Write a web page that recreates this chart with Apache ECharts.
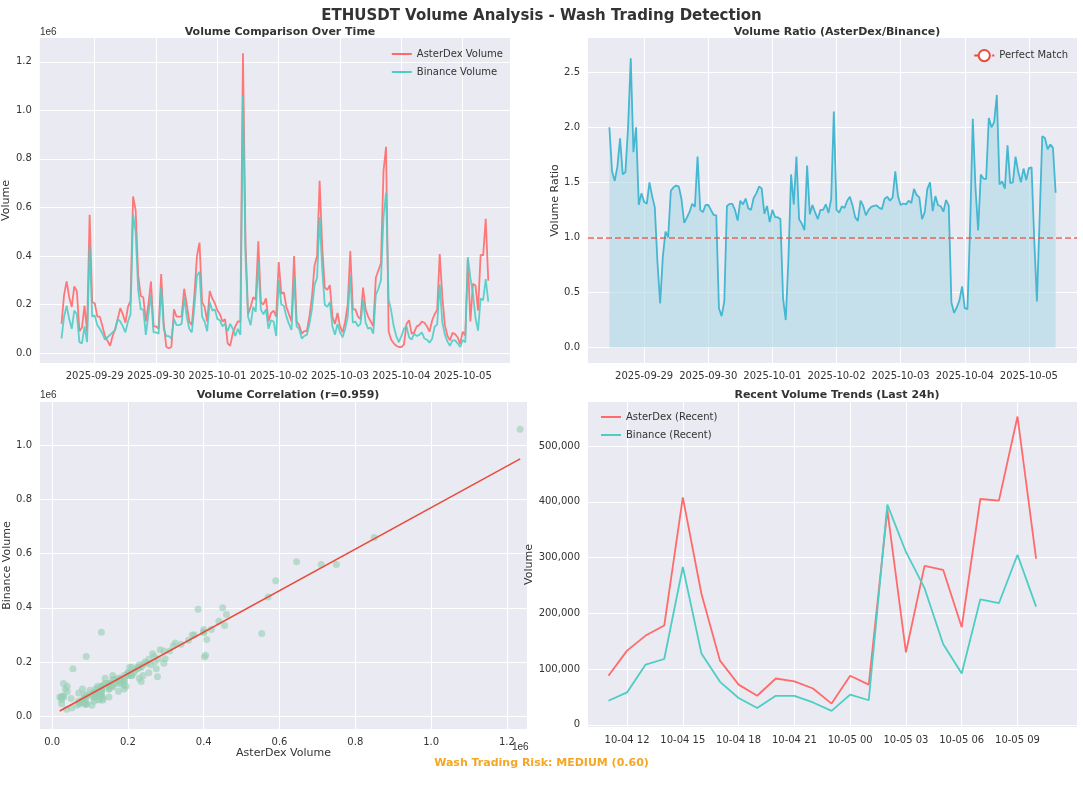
<!DOCTYPE html>
<html>
<head>
<meta charset="utf-8">
<script src="https://cdn.jsdelivr.net/npm/echarts@6/dist/echarts.min.js"></script>
<style>
html,body{margin:0;padding:0;background:#fff;}
#chart{width:1083px;height:801px;}
</style>
</head>
<body>
<div id="chart"></div>
<script>
// hourly volumes (thousands), 2025-09-28 11:00 .. 2025-10-05 10:00 UTC
var asterK = [120,240,295,230,190,275,255,90,105,195,90,570,210,205,150,150,110,70,50,30,70,100,140,185,
  160,125,190,215,645,590,320,235,230,130,200,295,110,110,100,325,120,25,20,25,180,150,150,150,
  265,200,130,115,240,400,455,210,190,130,255,225,205,175,160,130,140,40,30,80,110,130,130,1235,
  450,160,190,230,220,460,210,200,225,130,165,175,150,375,245,250,190,160,130,400,130,115,80,90,
  90,150,230,360,400,710,440,270,260,280,150,120,165,110,85,130,200,420,180,180,150,140,270,180,
  150,130,110,310,340,370,750,850,90,55,40,30,25,25,35,120,135,80,85,110,115,130,125,110,
  88,133,160,178,408,235,115,72,52,83,78,65,38,88,72,385,130,285,278,175,405,402,553,298];
var binanceK = [60,150,195,140,100,175,160,45,40,110,45,440,150,155,115,100,80,55,65,75,85,95,140,130,
  110,85,130,160,570,500,260,180,180,75,160,240,85,85,80,270,100,70,70,60,140,115,115,120,
  230,150,100,85,190,320,335,150,130,90,210,175,180,140,135,110,120,90,120,100,70,100,75,1060,
  400,150,115,190,170,375,180,160,180,100,135,130,70,300,200,195,150,120,95,310,110,100,60,70,
  75,120,180,280,310,560,350,200,190,210,110,75,120,85,65,100,150,320,125,130,110,120,220,125,
  100,105,80,240,265,300,560,660,220,175,110,70,45,70,100,110,65,55,80,70,75,85,60,55,
  43,58,108,118,283,128,77,48,30,52,52,40,25,54,44,395,310,245,145,92,225,218,305,212];
var startTime = Date.UTC(2025, 8, 28, 11);
var HOUR = 3600000, DAY = 86400000;

var aster = [], binance = [], ratio = [], scatter = [];
for (var i = 0; i < asterK.length; i++) {
  var t = startTime + i * HOUR;
  aster.push([t, asterK[i] * 1000]);
  binance.push([t, binanceK[i] * 1000]);
  ratio.push([t, asterK[i] / binanceK[i]]);
  scatter.push([asterK[i] * 1000, binanceK[i] * 1000]);
}
var recentAster = aster.slice(-24), recentBinance = binance.slice(-24);

// least squares fit for the correlation panel
var n = scatter.length, sx = 0, sy = 0, sxx = 0, sxy = 0, minX = Infinity, maxX = -Infinity;
scatter.forEach(function (p) {
  sx += p[0]; sy += p[1]; sxx += p[0] * p[0]; sxy += p[0] * p[1];
  minX = Math.min(minX, p[0]); maxX = Math.max(maxX, p[0]);
});
var slope = (n * sxy - sx * sy) / (n * sxx - sx * sx);
var icpt = (sy - slope * sx) / n;
var fitLine = [[minX, icpt + slope * minX], [maxX, icpt + slope * maxX]];

var red = '#ff6b6b', teal = '#4ecdc4', txt = '#333';
var t0 = startTime, t1 = startTime + (asterK.length - 1) * HOUR;

function pad2(v) { return v < 10 ? '0' + v : '' + v; }
function dayLabel(v) { var d = new Date(v); return d.getUTCFullYear() + '-' + pad2(d.getUTCMonth() + 1) + '-' + pad2(d.getUTCDate()); }
function hourLabel(v) { var d = new Date(v); return pad2(d.getUTCMonth() + 1) + '-' + pad2(d.getUTCDate()) + ' ' + pad2(d.getUTCHours()); }
function mil(v) { return (v / 1e6).toFixed(1); }

var splitStyle = { show: true, lineStyle: { color: '#ffffff', width: 1 } };
function baseAxis(extra) {
  var a = {
    axisLine: { show: false }, axisTick: { show: false }, splitLine: splitStyle,
    axisLabel: { color: txt, fontSize: 10, fontFamily: 'DejaVu Sans', showMinLabel: true, showMaxLabel: true },
    nameTextStyle: { color: txt, fontSize: 11, fontFamily: 'DejaVu Sans' }
  };
  for (var k in extra) {
    if (k === 'axisLabel') { for (var j in extra[k]) a.axisLabel[j] = extra[k][j]; }
    else a[k] = extra[k];
  }
  return a;
}
function ticks(vals) { return { show: false, customValues: vals }; }

var chart = echarts.init(document.getElementById('chart'));
var tsTicks = [];
for (var d = Date.UTC(2025, 8, 29); d <= Date.UTC(2025, 9, 5); d += DAY) tsTicks.push(d);
var hTicks = [];
for (var h = Date.UTC(2025, 9, 4, 12); h <= Date.UTC(2025, 9, 5, 9); h += 3 * HOUR) hTicks.push(h);

var option = {
  animation: false,
  backgroundColor: '#ffffff',
  textStyle: { fontFamily: 'DejaVu Sans' },
  title: [
    { text: 'ETHUSDT Volume Analysis - Wash Trading Detection', left: 'center', top: 4, textStyle: { fontSize: 15, fontWeight: 'bold', color: txt } },
    { text: 'Volume Comparison Over Time', left: 275, textAlign: 'center', top: 22, textStyle: { fontSize: 11, fontWeight: 'bold', color: txt } },
    { text: 'Volume Ratio (AsterDex/Binance)', left: 832, textAlign: 'center', top: 22, textStyle: { fontSize: 11, fontWeight: 'bold', color: txt } },
    { text: 'Volume Correlation (r=0.959)', left: 283, textAlign: 'center', top: 385, textStyle: { fontSize: 11, fontWeight: 'bold', color: txt } },
    { text: 'Recent Volume Trends (Last 24h)', left: 832, textAlign: 'center', top: 385, textStyle: { fontSize: 11, fontWeight: 'bold', color: txt } },
    { text: 'Wash Trading Risk: MEDIUM (0.60)', left: 'center', top: 753, textStyle: { fontSize: 11, fontWeight: 'bold', color: '#f5a623' } }
  ],
  graphic: [
    { type: 'text', left: 40, top: 27, style: { text: '1e6', fontSize: 10, fill: txt } },
    { type: 'text', left: 40, top: 390, style: { text: '1e6', fontSize: 10, fill: txt } },
    { type: 'text', left: 512, top: 742, style: { text: '1e6', fontSize: 10, fill: txt } }
  ],
  legend: [
    { right: 575, top: 44, orient: 'vertical', itemWidth: 20, itemHeight: 2, itemGap: 8,
      data: ['AsterDex Volume', 'Binance Volume'], textStyle: { fontSize: 10, color: txt }, icon: 'rect' },
    { right: 10, top: 44, itemWidth: 20, itemGap: 6, data: ['Perfect Match'], textStyle: { fontSize: 10, color: txt } },
    { left: 596, top: 407, orient: 'vertical', itemWidth: 20, itemHeight: 2, itemGap: 8,
      data: ['AsterDex (Recent)', 'Binance (Recent)'], textStyle: { fontSize: 10, color: txt }, icon: 'rect' }
  ],
  grid: [
    { left: 39, top: 38, width: 471, height: 325, backgroundColor: '#eaeaf2', show: true, borderWidth: 0 },
    { left: 588, top: 38, width: 489, height: 325, backgroundColor: '#eaeaf2', show: true, borderWidth: 0 },
    { left: 40, top: 402, width: 487, height: 327, backgroundColor: '#eaeaf2', show: true, borderWidth: 0 },
    { left: 588, top: 402, width: 489, height: 325, backgroundColor: '#eaeaf2', show: true, borderWidth: 0 }
  ],
  xAxis: [
    baseAxis({ type: 'value', gridIndex: 0, min: t0 - 8.5 * HOUR, max: t1 + 8.5 * HOUR, showMinLabel: false, showMaxLabel: false,
      axisTick: ticks(tsTicks), axisLabel: { customValues: tsTicks, formatter: dayLabel } }),
    baseAxis({ type: 'value', gridIndex: 1, min: t0 - 8 * HOUR, max: t1 + 8 * HOUR,
      axisTick: ticks(tsTicks), axisLabel: { customValues: tsTicks, formatter: dayLabel } }),
    baseAxis({ type: 'value', gridIndex: 2, min: -32000, max: 1253000, name: 'AsterDex Volume',
      nameLocation: 'middle', nameGap: 18,
      axisTick: ticks([0, 200000, 400000, 600000, 800000, 1000000, 1200000]),
      axisLabel: { customValues: [0, 200000, 400000, 600000, 800000, 1000000, 1200000], formatter: mil } }),
    baseAxis({ type: 'value', gridIndex: 3, min: recentAster[0][0] - 1.1 * HOUR, max: recentAster[23][0] + 2.2 * HOUR,
      axisTick: ticks(hTicks), axisLabel: { customValues: hTicks, formatter: hourLabel } })
  ],
  yAxis: [
    baseAxis({ type: 'value', gridIndex: 0, min: -41000, max: 1298000, name: 'Volume', nameLocation: 'middle', nameGap: 26,
      axisTick: ticks([0, 200000, 400000, 600000, 800000, 1000000, 1200000]),
      axisLabel: { customValues: [0, 200000, 400000, 600000, 800000, 1000000, 1200000], formatter: mil } }),
    baseAxis({ type: 'value', gridIndex: 1, min: -0.14, max: 2.81, name: 'Volume Ratio', nameLocation: 'middle', nameGap: 26,
      axisTick: ticks([0, 0.5, 1, 1.5, 2, 2.5]),
      axisLabel: { customValues: [0, 0.5, 1, 1.5, 2, 2.5], formatter: function (v) { return v.toFixed(1); } } }),
    baseAxis({ type: 'value', gridIndex: 2, min: -48000, max: 1161000, name: 'Binance Volume', nameLocation: 'middle', nameGap: 26,
      axisTick: ticks([0, 200000, 400000, 600000, 800000, 1000000]),
      axisLabel: { customValues: [0, 200000, 400000, 600000, 800000, 1000000], formatter: mil } }),
    baseAxis({ type: 'value', gridIndex: 3, min: -4000, max: 579000, name: 'Volume', nameLocation: 'middle', nameGap: 42,
      axisTick: ticks([0, 100000, 200000, 300000, 400000, 500000]),
      axisLabel: { customValues: [0, 100000, 200000, 300000, 400000, 500000] } })
  ],
  series: [
    { name: 'AsterDex Volume', type: 'line', xAxisIndex: 0, yAxisIndex: 0, data: aster, showSymbol: false,
      itemStyle: { color: red }, lineStyle: { color: red, width: 1.8, opacity: 0.9 } },
    { name: 'Binance Volume', type: 'line', xAxisIndex: 0, yAxisIndex: 0, data: binance, showSymbol: false,
      itemStyle: { color: teal }, lineStyle: { color: teal, width: 1.8, opacity: 0.9 } },
    { name: 'Volume Ratio', type: 'line', xAxisIndex: 1, yAxisIndex: 1, data: ratio, showSymbol: false,
      lineStyle: { color: '#45b7d1', width: 1.8 }, areaStyle: { color: 'rgba(173,216,230,0.85)', origin: 0 } },
    { name: 'Perfect Match', type: 'line', xAxisIndex: 1, yAxisIndex: 1, data: [], showSymbol: false,
      itemStyle: { color: '#e74c3c' }, lineStyle: { color: '#e74c3c', type: [6, 3], width: 1.5 },
      markLine: { silent: true, symbol: 'none', label: { show: false },
        lineStyle: { color: '#e74c3c', type: [6, 3], width: 1.5, opacity: 0.85 }, data: [{ yAxis: 1 }] } },
    { name: 'scatter', type: 'scatter', xAxisIndex: 2, yAxisIndex: 2, data: scatter, symbolSize: 7,
      itemStyle: { color: '#96ceb4', opacity: 0.6 } },
    { name: 'fit', type: 'line', xAxisIndex: 2, yAxisIndex: 2, data: fitLine, showSymbol: false,
      lineStyle: { color: '#e74c3c', width: 1.5 } },
    { name: 'AsterDex (Recent)', type: 'line', xAxisIndex: 3, yAxisIndex: 3, data: recentAster, showSymbol: false,
      itemStyle: { color: red }, lineStyle: { color: red, width: 1.8 } },
    { name: 'Binance (Recent)', type: 'line', xAxisIndex: 3, yAxisIndex: 3, data: recentBinance, showSymbol: false,
      itemStyle: { color: teal }, lineStyle: { color: teal, width: 1.8 } }
  ]
};
chart.setOption(option);
</script>
</body>
</html>
